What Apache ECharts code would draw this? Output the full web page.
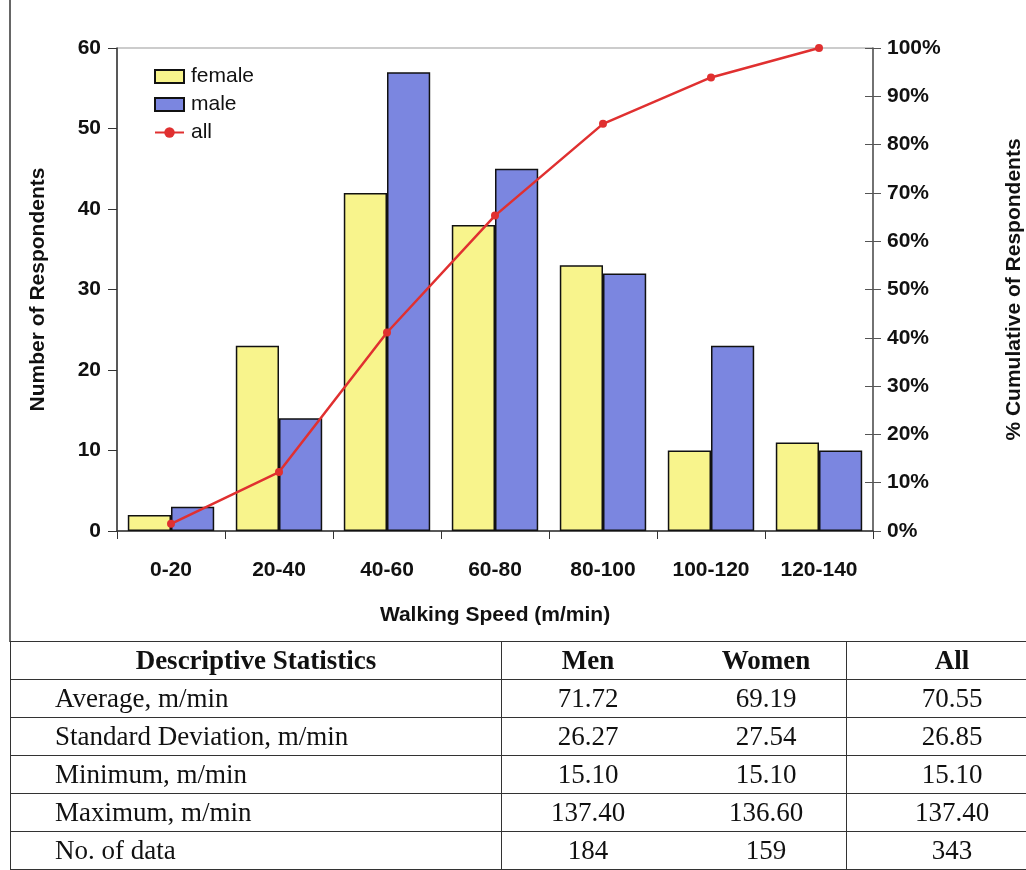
<!DOCTYPE html>
<html>
<head>
<meta charset="utf-8">
<script src="https://cdn.jsdelivr.net/npm/echarts@6/dist/echarts.min.js"></script>
<style>
  html, body { margin: 0; padding: 0; background: #fff; overflow: hidden; width: 1026px; height: 870px; }
  #chart { position: absolute; left: 0; top: 0; width: 1026px; height: 870px; }
  #stats { position: absolute; left: 10px; top: 641px; border-collapse: collapse; table-layout: fixed; width: 1032px;
           font-family: "Liberation Serif", "Times New Roman", serif; font-size: 27px; color: #111; }
  #stats td, #stats th { border: 1.5px solid #333; height: 37px; padding: 0; line-height: 37px; white-space: nowrap; }
  #stats th { font-weight: bold; }
  #stats td.lab { text-align: left; padding-left: 44px; }
  #stats .num { text-align: center; }
  #stats .c1 { border-right: none; }
  #stats .c2 { border-left: none; padding-left: 12px; }
</style>
</head>
<body>
<div id="chart"></div>
<table id="stats"></table>
<script>
// ---- data ----
const categories = ['0-20', '20-40', '40-60', '60-80', '80-100', '100-120', '120-140'];
const female = [2, 23, 42, 38, 33, 10, 11];
const male = [3, 14, 57, 45, 32, 23, 10];
const allCumulative = [0.015, 0.122, 0.411, 0.653, 0.843, 0.939, 1.0];
const leftTicks = [0, 10, 20, 30, 40, 50, 60];

const statHeaders = ['Descriptive Statistics', 'Men', 'Women', 'All'];
const statLabels = ['Average, m/min', 'Standard Deviation, m/min', 'Minimum, m/min', 'Maximum, m/min', 'No. of data'];
const statMen = ['71.72', '26.27', '15.10', '137.40', '184'];
const statWomen = ['69.19', '27.54', '15.10', '136.60', '159'];
const statAll = ['70.55', '26.85', '15.10', '137.40', '343'];

// ---- table ----
const colWidths = [490, 172, 160, 210];
const colClass = ['', 'num c1', 'num c2', 'num'];
const tbl = document.getElementById('stats');
let html = '<tr>';
statHeaders.forEach((h, i) => { html += '<th class="' + colClass[i] + '" style="width:' + colWidths[i] + 'px">' + h + '</th>'; });
html += '</tr>';
statLabels.forEach((l, i) => {
  html += '<tr><td class="lab">' + l + '</td><td class="num c1">' + statMen[i] + '</td><td class="num c2">' +
          statWomen[i] + '</td><td class="num">' + statAll[i] + '</td></tr>';
});
tbl.innerHTML = html;

// ---- chart ----
const chart = echarts.init(document.getElementById('chart'), null, { renderer: 'canvas' });
const font = 'Liberation Sans, Arial, sans-serif';
const option = {
  animation: false,
  backgroundColor: '#fff',
  grid: { left: 117, right: 153, top: 48, bottom: 339, show: true, borderColor: '#999', borderWidth: 1,
          backgroundColor: 'transparent', containLabel: false, outerBoundsMode: 'none' },
  graphic: [
    { type: 'line', shape: { x1: 10, y1: 0, x2: 10, y2: 642 }, style: { stroke: '#333', lineWidth: 1.5 } }
  ],
  legend: {
    orient: 'vertical', left: 149, top: 61, itemWidth: 29, itemHeight: 13, itemGap: 7,
    textStyle: { fontFamily: font, fontSize: 21, color: '#111', padding: [0, 0, 0, 2] },
    data: [
      { name: 'female', icon: 'rect' },
      { name: 'male', icon: 'rect' },
      { name: 'all' }
    ]
  },
  xAxis: {
    type: 'category', data: categories,
    name: 'Walking Speed (m/min)', nameLocation: 'middle', nameGap: 74,
    nameTextStyle: { fontFamily: font, fontSize: 21, fontWeight: 'bold', color: '#111' },
    axisLine: { lineStyle: { color: '#333', width: 1.5 } },
    axisTick: { show: true, length: 8, lineStyle: { color: '#333' } },
    axisLabel: { margin: 29, fontFamily: font, fontSize: 21, fontWeight: 'bold', color: '#111' }
  },
  yAxis: [
    {
      type: 'value', min: 0, max: 60, interval: 10, position: 'left',
      name: 'Number of Respondents', nameLocation: 'middle', nameGap: 68, nameRotate: 90,
      nameTextStyle: { fontFamily: font, fontSize: 21, fontWeight: 'bold', color: '#111' },
      axisLine: { show: true, lineStyle: { color: '#333', width: 1.5 } },
      axisTick: { show: true, length: 9, lineStyle: { color: '#333' } },
      axisLabel: { margin: 16, fontFamily: font, fontSize: 21, fontWeight: 'bold', color: '#111',
                   formatter: v => leftTicks.indexOf(v) >= 0 ? String(v) : '' },
      splitLine: { show: false }
    },
    {
      type: 'value', min: 0, max: 1, interval: 0.1, position: 'right',
      name: '% Cumulative of Respondents', nameLocation: 'middle', nameGap: 131, nameRotate: 90,
      nameTextStyle: { fontFamily: font, fontSize: 21, fontWeight: 'bold', color: '#111' },
      axisLine: { show: true, lineStyle: { color: '#555', width: 1.5 } },
      axisTick: { show: true, length: 8, lineStyle: { color: '#555' } },
      axisLabel: { margin: 14, fontFamily: font, fontSize: 21, fontWeight: 'bold', color: '#111',
                   formatter: v => Math.round(v * 100) + '%' },
      splitLine: { show: false }
    },
    {
      type: 'value', min: 0, max: 1, interval: 0.1, position: 'right',
      axisLine: { show: false },
      axisTick: { show: true, inside: true, length: 8, lineStyle: { color: '#555' } },
      axisLabel: { show: false }, splitLine: { show: false }
    }
  ],
  series: [
    {
      name: 'female', type: 'bar', data: female, barGap: '0%', barCategoryGap: '20%',
      itemStyle: { color: '#F8F48C', borderColor: '#111', borderWidth: 1.5 }
    },
    {
      name: 'male', type: 'bar', data: male,
      itemStyle: { color: '#7B86E0', borderColor: '#111', borderWidth: 1.5 }
    },
    {
      name: 'all', type: 'line', yAxisIndex: 1, data: allCumulative,
      symbol: 'circle', symbolSize: 8,
      lineStyle: { color: '#E03030', width: 2.5 },
      itemStyle: { color: '#E03030' }
    }
  ]
};
chart.setOption(option);
</script>
</body>
</html>
